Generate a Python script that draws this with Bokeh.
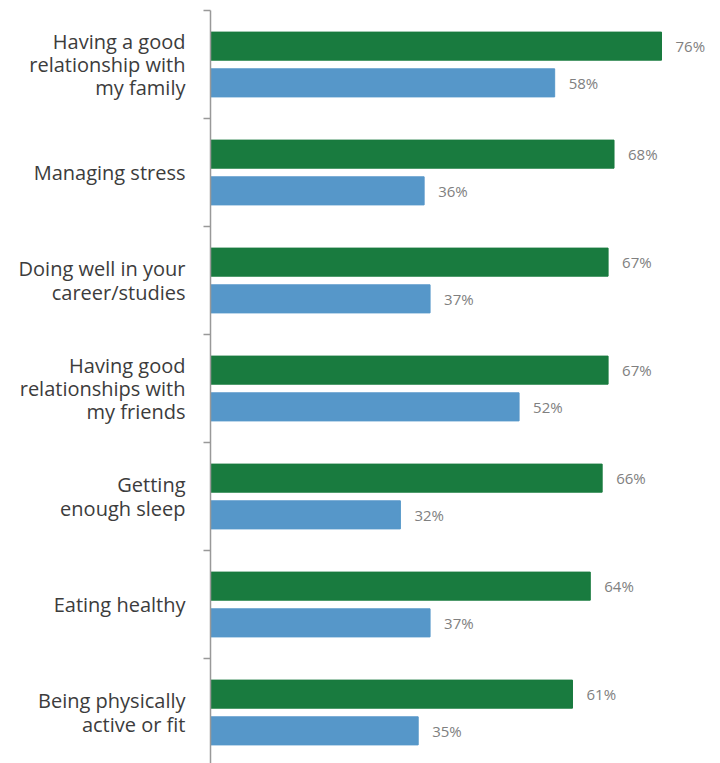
from bokeh.plotting import figure
from bokeh.models import Range1d, FixedTicker, ColumnDataSource
from bokeh.embed import file_html
from bokeh.resources import INLINE
from bokeh.core.properties import value

categories = [
    "Having a good\nrelationship with\nmy family",
    "Managing stress",
    "Doing well in your\ncareer/studies",
    "Having good\nrelationships with\nmy friends",
    "Getting\nenough sleep",
    "Eating healthy",
    "Being physically\nactive or fit",
]
series_green = [76, 68, 67, 67, 66, 64, 61]
series_blue = [58, 36, 37, 52, 32, 37, 35]

GREEN = "#197b3f"
BLUE = "#5697c9"

n = len(categories)
idx = list(range(n))
off = 0.17
src_g = ColumnDataSource(dict(y=[i - off for i in idx], v=series_green,
                              lab=[f"{v}%" for v in series_green]))
src_b = ColumnDataSource(dict(y=[i + off for i in idx], v=series_blue,
                              lab=[f"{v}%" for v in series_blue]))

W, H = 720, 763
left_border = 210
top_border = 10
px_per_unit = 451 / 76.0
frame_h = H - top_border
p = figure(width=W, height=H, output_backend="svg", toolbar_location=None,
           x_range=Range1d(0, (W - left_border) / px_per_unit),
           y_range=Range1d(-0.5 + frame_h / 108.0, -0.5),
           min_border_left=left_border, min_border_top=top_border,
           min_border_right=0, min_border_bottom=0,
           x_axis_location=None)
p.outline_line_color = None
p.xgrid.visible = False
p.ygrid.visible = False
p.background_fill_color = "white"

p.hbar(y="y", right="v", left=0, height=0.26, source=src_g, color=GREEN)
p.hbar(y="y", right="v", left=0, height=0.26, source=src_b, color=BLUE)

for src in (src_g, src_b):
    p.text(x="v", y="y", text="lab", source=src, x_offset=14,
           text_baseline="middle", text_align="left",
           text_font=value("Open Sans"), text_font_size="15px",
           text_color="#808080")

ax = p.yaxis[0]
ax.ticker = FixedTicker(ticks=idx, minor_ticks=[i - 0.5 for i in range(n + 1)])
ax.major_label_overrides = {i: c for i, c in enumerate(categories)}
ax.major_tick_out = 0
ax.major_tick_in = 0
ax.minor_tick_out = 7
ax.minor_tick_in = 0
ax.minor_tick_line_color = "#999999"
ax.minor_tick_line_width = 1.5
ax.axis_line_color = "#999999"
ax.axis_line_width = 1.5
ax.major_label_standoff = 18
ax.major_label_text_font = "Open Sans"
ax.major_label_text_font_size = "20px"
ax.major_label_text_line_height = 0.86
ax.major_label_text_color = "#3c3c3c"

open("out.html", "w").write(file_html(p, INLINE))
